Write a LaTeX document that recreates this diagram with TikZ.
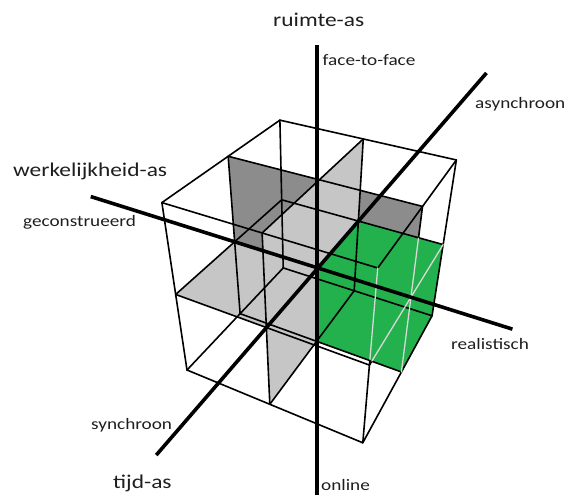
\documentclass[tikz,border=0pt]{standalone}
\usepackage{fontspec}
\usetikzlibrary{calc}
\newfontfamily\lblfont[FakeStretch=1.2]{Carlito}
\definecolor{cubegreen}{HTML}{22B14C}
\definecolor{darkplane}{HTML}{8C8C8C}
\definecolor{lightplane}{HTML}{C6C6C6}
\definecolor{paleline}{HTML}{D8D8D8}
\definecolor{labeltext}{HTML}{1E1E1E}
\begin{document}
\begin{tikzpicture}[x=1pt,y=-1pt,
  edge/.style={line width=1.6pt, black, line cap=round},
  pale/.style={line width=1.3pt, paleline, line cap=round},
  axisline/.style={line width=3.6pt, black},
  big/.style={font=\lblfont\fontsize{19.5}{22}\selectfont, text=labeltext, inner sep=0pt},
  small/.style={font=\lblfont\fontsize{16}{19}\selectfont, text=labeltext, inner sep=0pt},
]
\useasboundingbox (0,0) rectangle (567,495);

% lattice points of the 2x2x2 cube in three-point perspective
% p<i><j><k>: i along werkelijkheid, j along tijd, k upwards
\foreach \i in {0,1,2}{
  \foreach \j in {0,1,2}{
    \foreach \k in {0,1,2}{
      \pgfmathsetmacro{\w}{1 + \i*0.5*(-0.109) + \j*0.5*0.232 + \k*0.5*(-0.178)}
      \pgfmathsetmacro{\px}{(187 + \i*0.5*136.25 + \j*0.5*161.936 + \k*0.5*(-53.934))/\w}
      \pgfmathsetmacro{\py}{(370 + \i*0.5*24.525 + \j*0.5*(-39.904) + \k*0.5*(-203.454))/\w}
      \coordinate (p\i\j\k) at (\px,\py);
    }
  }
}

% shaded middle planes
\fill[darkplane] (p012) -- (p212) -- (p211) -- (p011) -- cycle;
\fill[lightplane] (p112) -- (p122) -- (p121) -- (p111) -- cycle;
\fill[lightplane] (p102) -- (p112) -- (p111) -- (p101) -- cycle;
\fill[lightplane] (p101) -- (p111) -- (p110) -- (p100) -- cycle;
\fill[lightplane] (p001) -- (p101) -- (p111) -- (p011) -- cycle;

% highlighted sub-cube
\fill[cubegreen] (p111) -- (p121) -- (p221) -- (p220) -- (p210) -- (p110) -- cycle;

% grid lines on the faces of the cube
\foreach \j/\k in {0/0,0/1,0/2,1/0,1/2,2/0,2/1,2/2}
  \draw[edge] (p0\j\k) -- (p2\j\k);
\foreach \i/\k in {0/0,0/1,0/2,1/0,1/2,2/0,2/2}
  \draw[edge] (p\i0\k) -- (p\i2\k);
\foreach \i/\j in {0/0,0/1,0/2,1/0,1/2,2/2}
  \draw[edge] (p\i\j0) -- (p\i\j2);

% right-face lines running over the green sub-cube
\coordinate (rf1) at ($(p212)!0.35!(p211)$);
\draw[edge] (p212) -- (rf1);
\draw[pale] (rf1) -- (p211) -- (p210);
\coordinate (rf2) at ($(p201)!0.06!(p211)$);
\draw[edge] (p201) -- (rf2);
\draw[pale] (rf2) -- (p211) -- (p221);
\coordinate (rf3) at ($(p202)!0.95!(p201)$);
\draw[pale] (p202) -- (rf3);
\draw[edge] (rf3) -- (p201) -- (p200);

% the three axes
\coordinate (wl) at ($(p111)!2.73!(p011)$);
\coordinate (wr) at ($(p111)!2.09!(p211)$);
\coordinate (tl) at ($(p111)!3.14!(p101)$);
\coordinate (tr) at ($(p111)!4.16!(p121)$);
\coordinate (rt) at (317,45);
\coordinate (rb) at (317,495);
\draw[axisline] (wl) -- (wr);
\draw[axisline] (tl) -- (tr);
\draw[axisline] (rt) -- (rb);

% labels
\node[big, anchor=base west] (lruimte) at (273,27) {ruimte-as};
\node[small, anchor=base west] (lface) at (322.5,65) {face-to-face};
\node[small, anchor=base west] (lonline) at (321,490) {online};
\node[big, anchor=base west] (lwerk) at (13,176) {werkelijkheid-as};
\node[small, anchor=base west] (lgecon) at (23,226) {geconstrueerd};
\node[small, anchor=base west] (lreal) at (451,349) {realistisch};
\node[small, anchor=base west] (lasync) at (475,108) {asynchroon};
\node[small, anchor=base west] (lsync) at (91,429) {synchroon};
\node[big, anchor=base west] (ltijd) at (113,488) {tijd-as};
\end{tikzpicture}
\end{document}
